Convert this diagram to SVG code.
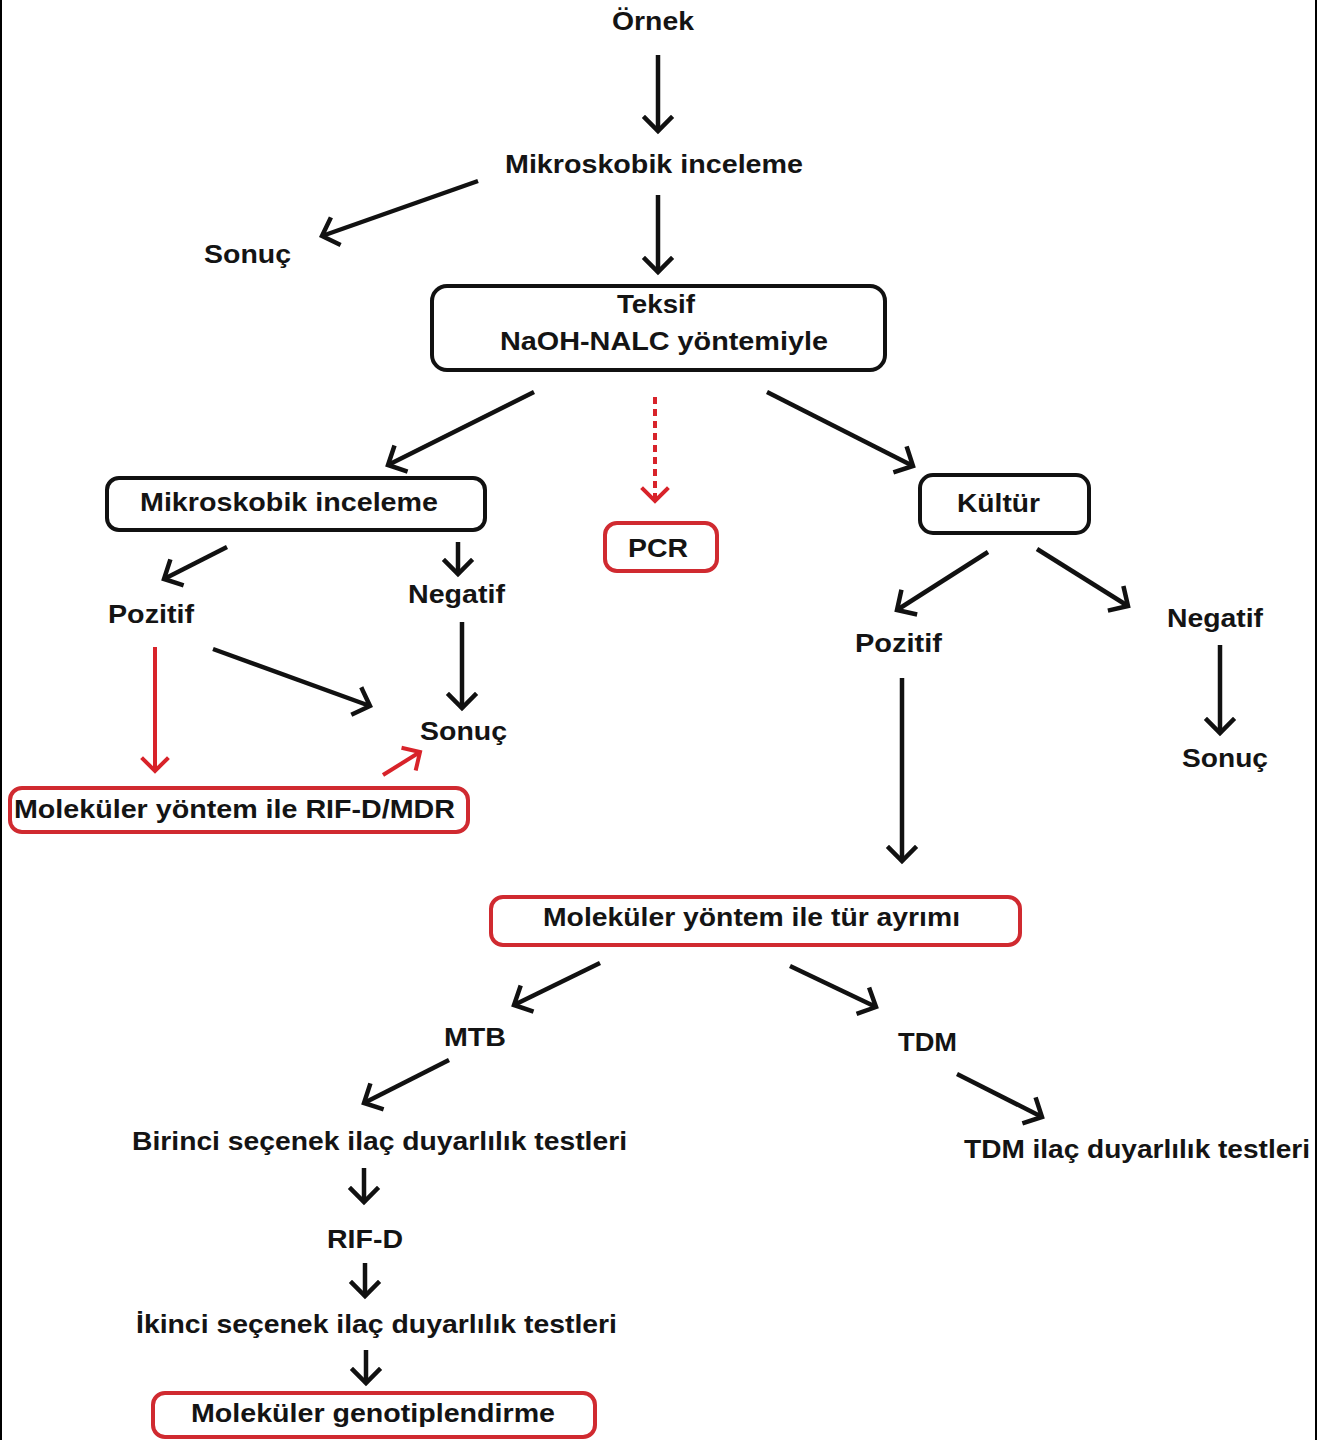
<svg xmlns="http://www.w3.org/2000/svg" width="1317" height="1440" viewBox="0 0 1317 1440">
<style>
text{font-family:"Liberation Sans",Arial,sans-serif;font-weight:bold;font-size:26px;fill:#141414}
.bx{fill:none;stroke:#111;stroke-width:4}
.rb{fill:none;stroke:#d02a30;stroke-width:4}
.c{fill:none;stroke:#111;stroke-width:4.5;marker-end:url(#ah)}
.r{fill:none;stroke:#d8232a;stroke-width:4;marker-end:url(#rh)}
.rd{fill:none;stroke:#d8232a;stroke-width:4;stroke-dasharray:7 5;marker-end:url(#rh)}
</style>
<defs>
<marker id="ah" markerUnits="userSpaceOnUse" viewBox="-18 -18 22 36" refX="0" refY="0" markerWidth="22" markerHeight="36" orient="auto">
<path d="M-13,-13 L0,0 L-13,13" fill="none" stroke="#111" stroke-width="4.5" stroke-linecap="square"/>
</marker>
<marker id="rh" markerUnits="userSpaceOnUse" viewBox="-18 -18 22 36" refX="0" refY="0" markerWidth="22" markerHeight="36" orient="auto">
<path d="M-12,-12 L0,0 L-12,12" fill="none" stroke="#d8232a" stroke-width="4" stroke-linecap="square"/>
</marker>
</defs>
<rect x="0" y="0" width="1317" height="1440" fill="#fff"/>
<rect x="0" y="0" width="2" height="1440" fill="#000"/>
<rect x="1315" y="0" width="2" height="1440" fill="#000"/>

<g id="connectors">
<line class="c" x1="658" y1="55" x2="658" y2="131"/>
<line class="c" x1="478" y1="181" x2="322" y2="236"/>
<line class="c" x1="658" y1="195" x2="658" y2="272"/>
<line class="c" x1="534" y1="392" x2="388" y2="465"/>
<line class="rd" x1="655" y1="397" x2="655" y2="501"/>
<line class="c" x1="767" y1="392" x2="913" y2="466"/>
<line class="c" x1="227" y1="547" x2="164" y2="579"/>
<line class="c" x1="458" y1="542" x2="458" y2="574"/>
<line class="r" x1="155" y1="647" x2="155" y2="771"/>
<line class="c" x1="213" y1="649" x2="370" y2="706"/>
<line class="c" x1="462" y1="622" x2="462" y2="708"/>
<line class="r" x1="383" y1="775" x2="420" y2="752"/>
<line class="c" x1="988" y1="552" x2="897" y2="610"/>
<line class="c" x1="1037" y1="549" x2="1128" y2="606"/>
<line class="c" x1="1220" y1="645" x2="1220" y2="733"/>
<line class="c" x1="902" y1="678" x2="902" y2="861"/>
<line class="c" x1="600" y1="963" x2="514" y2="1005"/>
<line class="c" x1="790" y1="966" x2="876" y2="1007"/>
<line class="c" x1="449" y1="1060" x2="364" y2="1103"/>
<line class="c" x1="957" y1="1074" x2="1042" y2="1117"/>
<line class="c" x1="364" y1="1168" x2="364" y2="1202"/>
<line class="c" x1="365" y1="1263" x2="365" y2="1296"/>
<line class="c" x1="366" y1="1350" x2="366" y2="1383"/>
</g>

<g id="n-ornek"><text x="612" y="30" textLength="82" lengthAdjust="spacingAndGlyphs">Örnek</text></g>
<g id="n-mikro1"><text x="505" y="173" textLength="298" lengthAdjust="spacingAndGlyphs">Mikroskobik inceleme</text></g>
<g id="n-sonuc1"><text x="204" y="263" textLength="87" lengthAdjust="spacingAndGlyphs">Sonuç</text></g>
<g id="n-teksif">
<rect class="bx" x="432" y="286" width="453" height="84" rx="15"/>
<text x="617" y="313" textLength="78" lengthAdjust="spacingAndGlyphs">Teksif</text>
<text x="500" y="350" textLength="328" lengthAdjust="spacingAndGlyphs">NaOH-NALC yöntemiyle</text>
</g>
<g id="n-mikro2">
<rect class="bx" x="107" y="478" width="378" height="52" rx="12"/>
<text x="140" y="511" textLength="298" lengthAdjust="spacingAndGlyphs">Mikroskobik inceleme</text>
</g>
<g id="n-pcr">
<rect class="rb" x="605" y="523" width="112" height="48" rx="12"/>
<text x="628" y="557" textLength="60" lengthAdjust="spacingAndGlyphs">PCR</text>
</g>
<g id="n-kultur">
<rect class="bx" x="920" y="475" width="169" height="58" rx="13"/>
<text x="957" y="512" textLength="83" lengthAdjust="spacingAndGlyphs">Kültür</text>
</g>
<g id="n-poz1"><text x="108" y="623" textLength="86" lengthAdjust="spacingAndGlyphs">Pozitif</text></g>
<g id="n-neg1"><text x="408" y="603" textLength="97" lengthAdjust="spacingAndGlyphs">Negatif</text></g>
<g id="n-sonuc2"><text x="420" y="740" textLength="87" lengthAdjust="spacingAndGlyphs">Sonuç</text></g>
<g id="n-rifmdr">
<rect class="rb" x="10" y="788" width="458" height="44" rx="12"/>
<text x="14" y="818" textLength="441" lengthAdjust="spacingAndGlyphs">Moleküler yöntem ile RIF-D/MDR</text>
</g>
<g id="n-poz2"><text x="855" y="652" textLength="87" lengthAdjust="spacingAndGlyphs">Pozitif</text></g>
<g id="n-neg2"><text x="1167" y="627" textLength="96" lengthAdjust="spacingAndGlyphs">Negatif</text></g>
<g id="n-sonuc3"><text x="1182" y="767" textLength="86" lengthAdjust="spacingAndGlyphs">Sonuç</text></g>
<g id="n-tur">
<rect class="rb" x="491" y="897" width="529" height="48" rx="12"/>
<text x="543" y="926" textLength="417" lengthAdjust="spacingAndGlyphs">Moleküler yöntem ile tür ayrımı</text>
</g>
<g id="n-mtb"><text x="444" y="1046" textLength="62" lengthAdjust="spacingAndGlyphs">MTB</text></g>
<g id="n-tdm"><text x="898" y="1051" textLength="59" lengthAdjust="spacingAndGlyphs">TDM</text></g>
<g id="n-birinci"><text x="132" y="1150" textLength="495" lengthAdjust="spacingAndGlyphs">Birinci seçenek ilaç duyarlılık testleri</text></g>
<g id="n-tdmilac"><text x="964" y="1158" textLength="346" lengthAdjust="spacingAndGlyphs">TDM ilaç duyarlılık testleri</text></g>
<g id="n-rifd"><text x="327" y="1248" textLength="76" lengthAdjust="spacingAndGlyphs">RIF-D</text></g>
<g id="n-ikinci"><text x="136" y="1333" textLength="481" lengthAdjust="spacingAndGlyphs">İkinci seçenek ilaç duyarlılık testleri</text></g>
<g id="n-genotip">
<rect class="rb" x="153" y="1393" width="442" height="44" rx="12"/>
<text x="191" y="1422" textLength="364" lengthAdjust="spacingAndGlyphs">Moleküler genotiplendirme</text>
</g>
</svg>
